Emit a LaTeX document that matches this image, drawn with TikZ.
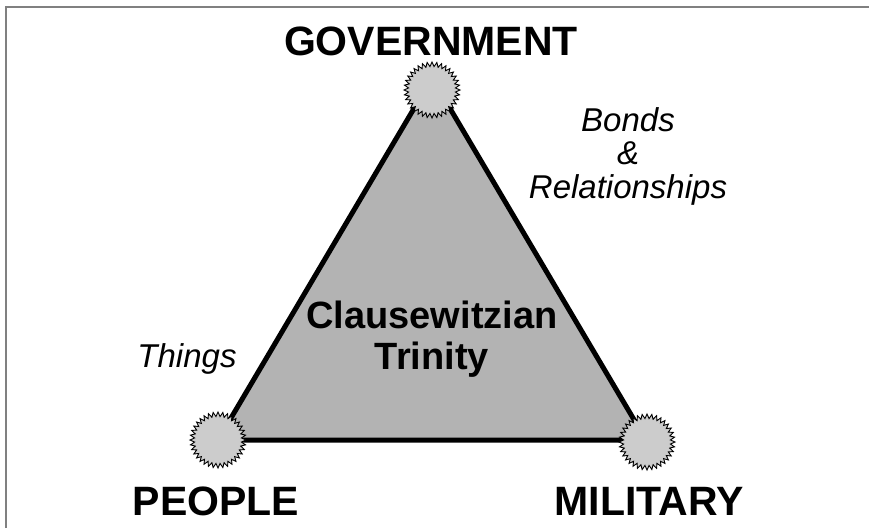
\documentclass[tikz,border=0pt]{standalone}
\usepackage{fontspec}
\setmainfont{Liberation Sans}
\usetikzlibrary{shapes.symbols}
\definecolor{trifill}{HTML}{B3B3B3}
\definecolor{burstfill}{HTML}{CCCCCC}
\definecolor{framegray}{HTML}{808080}
\begin{document}
\begin{tikzpicture}[x=1pt,y=-1pt,
  burst/.style={shape=starburst, draw=black, fill=burstfill, line width=0.9pt,
    starburst points=36, starburst point height=4.5pt, random starburst=0,
    minimum width=56pt, minimum height=56pt, inner sep=0pt},
  bigtitle/.style={font=\fontsize{41}{41}\selectfont\bfseries, inner sep=0pt},
  itlabel/.style={font=\fontsize{33}{33}\selectfont\itshape, inner sep=0pt, align=center},
  centre/.style={font=\fontsize{38}{41}\selectfont\bfseries, inner sep=0pt, align=center}]
\useasboundingbox (0,0) rectangle (869,528);
\draw[framegray, line width=2pt] (5.5,528) -- (5.5,6.5) -- (869,6.5);
\coordinate (vg) at (432,78);
\coordinate (vp) at (218,440);
\coordinate (vm) at (646,440);
\draw[line width=5pt, fill=trifill, line join=miter] (vg) -- (vp) -- (vm) -- cycle;
\node[burst] (bg) at (432,90) {};
\node[burst] (bp) at (218,440) {};
\node[burst] (bm) at (647,442) {};
\node[bigtitle, anchor=base] (tg) at (431,55) {GOVERNMENT};
\node[bigtitle, anchor=base] (tp) at (216,515) {PEOPLE};
\node[bigtitle, anchor=base] (tm) at (649,515) {MILITARY};
\node[centre] (tc) at (432,339) {Clausewitzian\\Trinity};
\node[itlabel] (tb) at (628,156) {Bonds\\[0pt]\&\\[1pt]Relationships};
\node[itlabel, anchor=base] (tt) at (187,367) {Things};
\end{tikzpicture}
\end{document}
